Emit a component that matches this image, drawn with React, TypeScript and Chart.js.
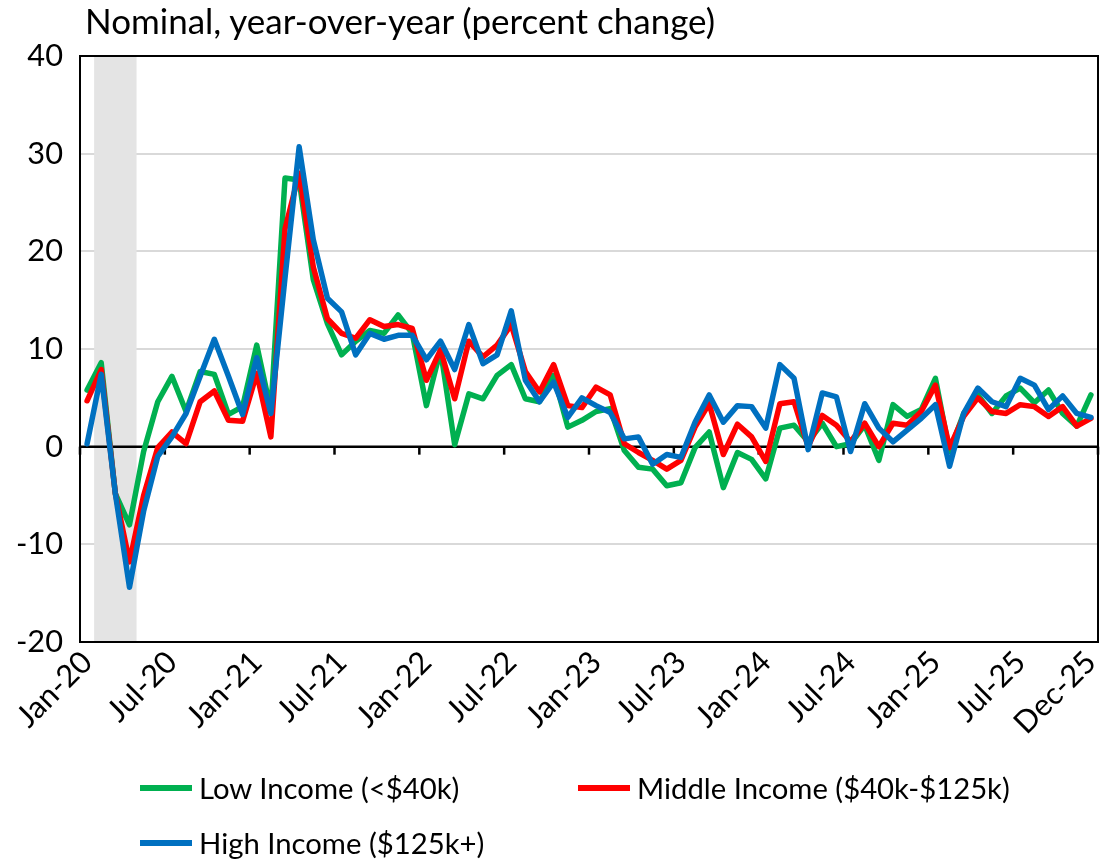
import React, { useEffect, useRef } from 'react';
import { Chart, registerables } from 'chart.js';

Chart.register(...registerables);

const monthNames = ['Jan', 'Feb', 'Mar', 'Apr', 'May', 'Jun', 'Jul', 'Aug', 'Sep', 'Oct', 'Nov', 'Dec'];
const yearSuffixes = ['20', '21', '22', '23', '24', '25'];
const categories: string[] = yearSuffixes.flatMap((y) => monthNames.map((m) => `${m}-${y}`));

const tickLabels = ['Jan-20', 'Jul-20', 'Jan-21', 'Jul-21', 'Jan-22', 'Jul-22', 'Jan-23', 'Jul-23', 'Jan-24', 'Jul-24', 'Jan-25', 'Jul-25', 'Dec-25'];
const yTickValues = [-20, -10, 0, 10, 20, 30, 40];
const recessionMonths = ['Feb-20', 'Mar-20', 'Apr-20'];

const titleText = 'Nominal, year-over-year (percent change)';
const seriesNames = ['Low Income (<$40k)', 'Middle Income ($40k-$125k)', 'High Income ($125k+)'];

const lowIncome = [
  5.8, 8.6, -4.8, -8.0, -0.5, 4.6, 7.2, 3.6, 7.7, 7.4, 3.3, 4.1,
  10.4, 3.7, 27.5, 27.3, 17.1, 12.6, 9.4, 10.8, 11.9, 11.6, 13.5, 11.6,
  4.2, 9.9, 0.2, 5.4, 4.9, 7.3, 8.4, 4.9, 4.6, 7.3, 2.0, 2.7,
  3.6, 3.9, -0.4, -2.1, -2.3, -4.0, -3.7, -0.1, 1.5, -4.2, -0.6, -1.3,
  -3.3, 1.9, 2.2, 0.5, 2.4, 0.0, 0.3, 2.2, -1.4, 4.3, 3.1, 3.8,
  7.0, -0.5, 3.4, 5.3, 3.4, 5.2, 6.0, 4.5, 5.8, 3.4, 2.1, 5.3,
];

const middleIncome = [
  4.7, 7.9, -4.8, -11.8, -5.0, -0.1, 1.5, 0.3, 4.6, 5.7, 2.7, 2.6,
  7.5, 1.0, 22.3, 28.0, 18.4, 13.1, 11.6, 11.1, 13.0, 12.3, 12.5, 12.1,
  6.8, 9.9, 4.9, 10.8, 9.2, 10.4, 12.5, 7.7, 5.6, 8.4, 4.2, 4.0,
  6.1, 5.3, 0.3, -0.6, -1.4, -2.3, -1.4, 2.0, 4.4, -0.8, 2.3, 1.0,
  -1.5, 4.4, 4.6, 0.0, 3.2, 2.2, 0.5, 2.4, 0.0, 2.4, 2.2, 3.6,
  6.3, -0.1, 3.1, 5.0, 3.6, 3.4, 4.3, 4.1, 3.1, 4.1, 2.1, 2.9,
];

const highIncome = [
  0.3, 7.4, -4.8, -14.4, -6.6, -1.0, 1.0, 3.4, 7.2, 11.0, 7.2, 3.3,
  9.1, 3.4, 17.3, 30.7, 21.2, 15.2, 13.8, 9.4, 11.6, 11.0, 11.4, 11.4,
  8.9, 10.8, 7.9, 12.5, 8.5, 9.4, 13.9, 6.8, 4.6, 6.6, 3.0, 5.0,
  4.2, 3.5, 0.8, 1.0, -1.8, -0.8, -1.1, 2.5, 5.3, 2.5, 4.2, 4.1,
  1.9, 8.4, 7.0, -0.3, 5.5, 5.1, -0.5, 4.4, 1.9, 0.5, 1.7, 2.9,
  4.3, -2.0, 3.4, 6.0, 4.6, 4.1, 7.0, 6.3, 3.8, 5.2, 3.4, 3.0,
];

const seriesColors = ['#00B050', '#FF0000', '#0070C0'];

const FONT = 'Lato, "Open Sans", sans-serif';
const W = 1101;
const H = 861;

function fitSize(text: string, target: number): number {
  const ctx = document.createElement('canvas').getContext('2d');
  if (!ctx) return 24;
  ctx.font = `100px ${FONT}`;
  const w = ctx.measureText(text).width;
  return (100 * target) / w;
}

const framePlugin = {
  id: 'excelFrame',
  beforeDatasetsDraw(chart: any) {
    const { ctx, chartArea, scales } = chart;
    const xs = scales.x;
    const ys = scales.y;
    const n = categories.length;
    const cw = (chartArea.right - chartArea.left) / n;
    ctx.save();
    const idx = recessionMonths.map((m) => categories.indexOf(m));
    const x0 = xs.getPixelForValue(Math.min(...idx)) - cw / 2;
    const x1 = xs.getPixelForValue(Math.max(...idx)) + cw / 2;
    ctx.fillStyle = '#e4e4e4';
    ctx.fillRect(x0, chartArea.top, x1 - x0, chartArea.bottom - chartArea.top);
    ctx.strokeStyle = '#000';
    ctx.lineWidth = 2;
    ctx.strokeRect(chartArea.left, chartArea.top, chartArea.right - chartArea.left, chartArea.bottom - chartArea.top);
    const y0 = ys.getPixelForValue(0);
    ctx.lineWidth = 2.5;
    ctx.beginPath();
    ctx.moveTo(chartArea.left, y0);
    ctx.lineTo(chartArea.right, y0);
    ctx.stroke();
    for (let i = 0; i <= n; i += 6) {
      const xp = i < n ? xs.getPixelForValue(i) - cw / 2 : chartArea.right;
      ctx.beginPath();
      ctx.moveTo(xp, y0);
      ctx.lineTo(xp, y0 + 8);
      ctx.stroke();
    }
    ctx.restore();
  },
};

export default function App() {
  const canvasRef = useRef<HTMLCanvasElement | null>(null);
  const titleSize = fitSize(titleText, 632);
  const legendSize = fitSize(seriesNames[1], 373);
  const tickSize = legendSize * 1.05;

  useEffect(() => {
    document.body.style.margin = '0';
    const canvas = canvasRef.current;
    if (!canvas) return;
    const values = [lowIncome, middleIncome, highIncome];
    const chart = new Chart(canvas, {
      type: 'line',
      data: {
        labels: categories,
        datasets: values.map((v, k) => ({
          label: seriesNames[k],
          data: v,
          borderColor: seriesColors[k],
          backgroundColor: seriesColors[k],
          borderWidth: 5.5,
          pointRadius: 0,
          tension: 0,
          borderJoinStyle: 'round' as const,
          borderCapStyle: 'round' as const,
          order: 3 - k,
          fill: false,
        })),
      },
      options: {
        responsive: false,
        animation: false,
        events: [],
        layout: { padding: { top: 56, right: 3, bottom: 0, left: 0 } },
        plugins: {
          legend: { display: false },
          title: { display: false },
          tooltip: { enabled: false },
        },
        scales: {
          x: {
            type: 'category',
            offset: true,
            grid: { display: false, drawTicks: false },
            border: { display: false },
            ticks: {
              autoSkip: false,
              minRotation: 45,
              maxRotation: 45,
              padding: 2,
              color: '#000',
              font: { family: FONT, size: tickSize },
              callback: (_v: any, i: number) => (tickLabels.includes(categories[i]) ? categories[i] : ''),
            },
            afterFit: (s: any) => {
              s.height = H - 642;
              s.paddingLeft = 0;
              s.paddingRight = 0;
            },
          },
          y: {
            min: yTickValues[0],
            max: yTickValues[yTickValues.length - 1],
            afterBuildTicks: (s: any) => {
              s.ticks = yTickValues.map((v) => ({ value: v }));
            },
            grid: { color: '#d9d9d9', lineWidth: 2, drawTicks: false },
            border: { display: false },
            ticks: {
              padding: 17,
              color: '#000',
              font: { family: FONT, size: tickSize },
            },
            afterFit: (s: any) => {
              s.width = 80;
              s.paddingTop = 0;
              s.paddingBottom = 0;
            },
          },
        },
      },
      plugins: [framePlugin],
    });
    return () => chart.destroy();
  }, []);

  const asc = 0.987;
  const legendItems = [
    { x: 140, y: 788, k: 0 },
    { x: 578, y: 788, k: 1 },
    { x: 140, y: 843, k: 2 },
  ];

  return (
    <div style={{ position: 'absolute', left: 0, top: 0, width: W, height: H, background: '#fff', fontFamily: FONT }}>
      <canvas ref={canvasRef} width={W} height={H} style={{ position: 'absolute', left: 0, top: 0, width: W, height: H }} />
      <div
        style={{
          position: 'absolute',
          left: 85,
          top: 35 - asc * titleSize,
          fontSize: titleSize,
          lineHeight: 1.2,
          whiteSpace: 'nowrap',
          color: '#000',
        }}
      >
        {titleText}
      </div>
      {legendItems.map((it) => (
        <React.Fragment key={it.k}>
          <div
            style={{
              position: 'absolute',
              left: it.x,
              top: it.y - 3,
              width: 52,
              height: 6,
              background: seriesColors[it.k],
            }}
          />
          <div
            style={{
              position: 'absolute',
              left: it.x + 59,
              top: it.y + 11 - asc * legendSize,
              fontSize: legendSize,
              lineHeight: 1.2,
              whiteSpace: 'nowrap',
              color: '#000',
            }}
          >
            {seriesNames[it.k]}
          </div>
        </React.Fragment>
      ))}
    </div>
  );
}
